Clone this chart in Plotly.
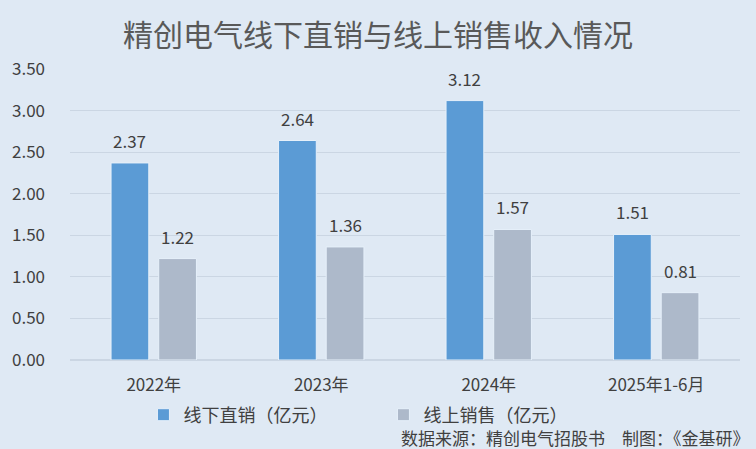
import plotly.graph_objects as go

categories = ["2022年", "2023年", "2024年", "2025年1-6月"]
offline = [2.37, 2.64, 3.12, 1.51]
online = [1.22, 1.36, 1.57, 0.81]
offline_name = "线下直销（亿元）"
online_name = "线上销售（亿元）"
y_ticks = [0, 0.5, 1.0, 1.5, 2.0, 2.5, 3.0, 3.5]

FONT = "Noto Sans CJK SC"
BG = "#dfe9f4"
TXT = "#404040"

fig = go.Figure()
fig.add_trace(go.Bar(
    x=categories, y=offline, name=offline_name,
    marker=dict(color="#5b9bd5", line=dict(color="#e6f0fa", width=1)),
))
fig.add_trace(go.Bar(
    x=categories, y=online, name=online_name,
    marker=dict(color="#adb9ca", line=dict(color="#e6f0fa", width=1)),
))

# value labels above bars
for series, shift in ((offline, -24), (online, 24)):
    for cat, val in zip(categories, series):
        fig.add_annotation(x=cat, y=val, text=f"{val:.2f}", showarrow=False,
                           xshift=shift, yshift=8, yanchor="bottom",
                           font=dict(size=17, color=TXT, family=FONT))

fig.update_layout(
    width=756, height=449,
    paper_bgcolor=BG, plot_bgcolor=BG,
    margin=dict(l=65, r=16, t=69, b=89),
    barmode="group", bargap=0.431, bargroupgap=0.208,
    font=dict(family=FONT, color="#595959"),
    title=dict(text="精创电气线下直销与线上销售收入情况", x=0.5, xanchor="center",
               y=0.922, yanchor="middle",
               font=dict(size=30, color="#595959", family=FONT)),
    xaxis=dict(range=[-0.5, 3.5], showgrid=False, showline=False, zeroline=False,
               tickfont=dict(size=17, color=TXT, family=FONT), ticks="",
               ticklabelstandoff=13),
    yaxis=dict(range=[0, 3.5], tickvals=y_ticks, ticktext=[f"{v:.2f}" for v in y_ticks],
               showgrid=True, gridcolor="#cbd6e3", gridwidth=1, zeroline=True,
               zerolinecolor="#cbd6e3", showline=False,
               tickfont=dict(size=17, color=TXT, family=FONT), ticks="",
               ticklabelstandoff=24),
    legend=dict(orientation="h", x=(139 - 65) / 675, xanchor="left", y=-0.189, yanchor="middle",
                font=dict(size=18, color=TXT, family=FONT),
                bgcolor="rgba(0,0,0,0)", itemwidth=30, tracegroupgap=0,
                entrywidthmode="pixels", entrywidth=195),
    showlegend=True,
)

fig.add_annotation(text="数据来源：精创电气招股书　制图：《金基研》", xref="paper", yref="paper",
                   x=1.018, xanchor="right", y=-0.268, yanchor="middle", showarrow=False,
                   font=dict(size=17, color=TXT, family=FONT))

fig.write_html("out.html", config={"displayModeBar": False},
               post_script="document.body.style.margin='0';document.body.style.overflow='hidden';")
